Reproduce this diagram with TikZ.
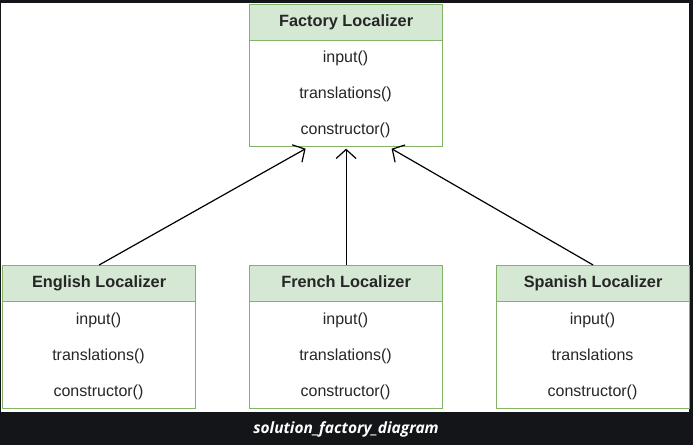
\documentclass[tikz,border=0pt]{standalone}
\usepackage{fontspec}
\setmainfont{Liberation Sans}
\newfontfamily\capfont{Open Sans}
\usetikzlibrary{arrows.meta,calc}
\definecolor{hdrfill}{HTML}{D5E8D4}
\definecolor{hdrline}{HTML}{82B366}
\definecolor{bgdark}{RGB}{20,21,25}
\definecolor{txt}{HTML}{262626}
\begin{document}
\begin{tikzpicture}[x=1pt,y=-1pt,
  hdr/.style={draw=hdrline, fill=hdrfill, line width=1.2pt, minimum width=193pt, minimum height=36pt, inner sep=0pt, text height=11.5pt, text depth=3.5pt, font=\fontsize{16.3}{19}\selectfont\bfseries, text=txt, anchor=north west},
  body/.style={draw=hdrline, fill=white, line width=1.2pt, minimum width=193pt, minimum height=107pt, inner sep=0pt, anchor=north west},
  item/.style={font=\fontsize{16}{19}\selectfont, text=txt, inner sep=0pt, text height=11.5pt, text depth=3.5pt},
  inh/.style={draw=black, line width=1.2pt, -{Straight Barb[length=9pt,width=20pt]}}]
\useasboundingbox (0,0) rectangle (693,445);
\fill[bgdark] (0,0) rectangle (693,445);
\fill[white] (1,3) rectangle (689,412);
% Factory
\node[body] (fb) at (249,39) {};
\node[hdr] (fh) at (249,4) {Factory Localizer};
\node[item] (f1) at (345.5,58) {input()};
\node[item] (f2) at (345.5,94) {translations()};
\node[item] (f3) at (345.5,130) {constructor()};
% English
\node[body] (eb) at (2,301) {};
\node[hdr] (eh) at (2,265) {English Localizer};
\node[item] (e1) at (98.5,320) {input()};
\node[item] (e2) at (98.5,356) {translations()};
\node[item] (e3) at (98.5,392) {constructor()};
% French
\node[body] (rb) at (249,301) {};
\node[hdr] (rh) at (249,265) {French Localizer};
\node[item] (r1) at (345.5,320) {input()};
\node[item] (r2) at (345.5,356) {translations()};
\node[item] (r3) at (345.5,392) {constructor()};
% Spanish
\node[body] (sb) at (496,301) {};
\node[hdr] (sh) at (496,265) {Spanish Localizer};
\node[item] (s1) at (592.5,320) {input()};
\node[item] (s2) at (592.5,356) {translations};
\node[item] (s3) at (592.5,392) {constructor()};
% connectors
\draw[inh] (eh.north) -- ($(fb.south)+(-40.5,1.5)$);
\draw[inh] (rh.north) -- ($(fb.south)+(0,1.5)$);
\draw[inh] (sh.north) -- ($(fb.south)+(45.5,1.5)$);
% caption
\node[font=\capfont\bfseries\itshape\fontsize{15.5}{18}\selectfont, text=white] (cap) at (346,429) {solution\_factory\_diagram};
\end{tikzpicture}
\end{document}
